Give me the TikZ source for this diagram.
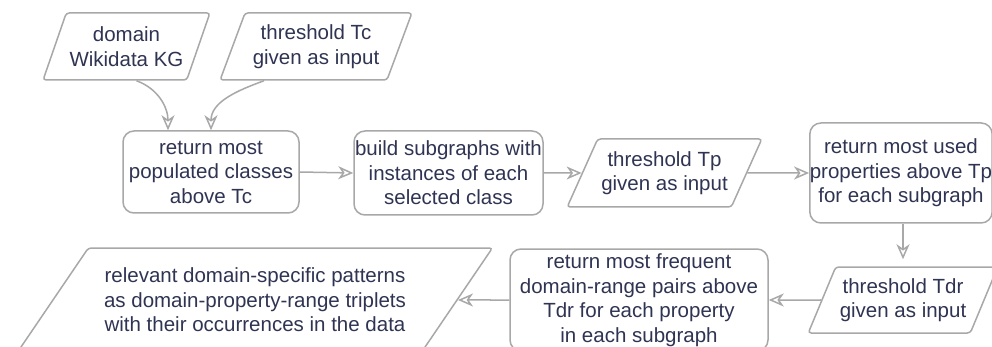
\documentclass[tikz,border=0pt]{standalone}
\usepackage{fontspec}
\setmainfont{Liberation Sans}
\usetikzlibrary{shapes.geometric,arrows.meta}
\definecolor{strokegray}{HTML}{A8A8A8}
\definecolor{inktext}{HTML}{2F3453}
\tikzset{
  every node/.style={font=\fontsize{20.5}{24.5}\selectfont, text=inktext, align=center, inner sep=0pt},
  procbox/.style={draw=strokegray, line width=1.5pt, rounded corners=11pt, fill=white},
  iobox/.style={draw=strokegray, line width=1.5pt, rounded corners=3pt, fill=white,
    shape=trapezium, trapezium stretches=true},
  arr/.style={draw=strokegray, line width=1.5pt,
    -{Stealth[open, length=15pt, width=13pt, inset=4.5pt]}},
}
\begin{document}
\begin{tikzpicture}[x=1pt, y=1pt]
\useasboundingbox (0,0) rectangle (992,-347);
\clip (0,0) rectangle (992,-347);
\fill[white] (0,0) rectangle (992,-347);

% inputs
\node[iobox, trapezium left angle=61, trapezium right angle=119,
      minimum width=167pt, minimum height=67pt] (kg) at (126.5,-46.5) {domain\\Wikidata KG};
\node[iobox, trapezium left angle=63, trapezium right angle=117,
      minimum width=192pt, minimum height=67pt] (tc) at (316,-46.5) {threshold Tc\\given as input};

% first row
\node[procbox, minimum width=176pt, minimum height=82pt] (pop) at (211,-172)
  {return most\\populated classes\\above Tc};
\node[procbox, minimum width=189pt, minimum height=84pt] (sub) at (448.5,-173)
  {build subgraphs with\\instances of each\\selected class};
\node[iobox, trapezium left angle=56.5, trapezium right angle=123.5,
      minimum width=195pt, minimum height=68pt] (tp) at (664.5,-173) {threshold Tp\\given as input};
\node[procbox, minimum width=180pt, minimum height=100pt] (prop) at (901,-173)
  {return most used\\properties above Tp\\for each subgraph};

% second row
\node[iobox, trapezium left angle=59.4, trapezium right angle=120.6,
      minimum width=190pt, minimum height=66pt] (tdr) at (903,-300) {threshold Tdr\\given as input};
\node[procbox, minimum width=258pt, minimum height=102pt] (pairs) at (639,-300)
  {return most frequent\\domain-range pairs above\\Tdr for each property\\in each subgraph};
\node[iobox, trapezium left angle=45, trapezium right angle=135,
      minimum width=476pt, minimum height=104pt] (out) at (255,-300)
  {relevant domain-specific patterns\\as domain-property-range triplets\\with their occurrences in the data};

% connectors
\draw[arr] ([xshift=10pt]kg.south) to[out=-20, in=90] ([xshift=-43pt]pop.north);
\draw[arr] ([xshift=-52pt]tc.south) to[out=-160, in=90] (pop.north);
\draw[arr] (pop.east) -- (sub.west);
\draw[arr] (sub.east) -- (tp.west);
\draw[arr] (tp.east) -- (prop.west);
\draw[arr, shorten >=7pt] ([xshift=2pt]prop.south) -- ([xshift=2pt]prop.south |- tdr.north);
\draw[arr] (tdr.west) -- (pairs.east);
\draw[arr] (pairs.west) -- (out.east);
\end{tikzpicture}
\end{document}
